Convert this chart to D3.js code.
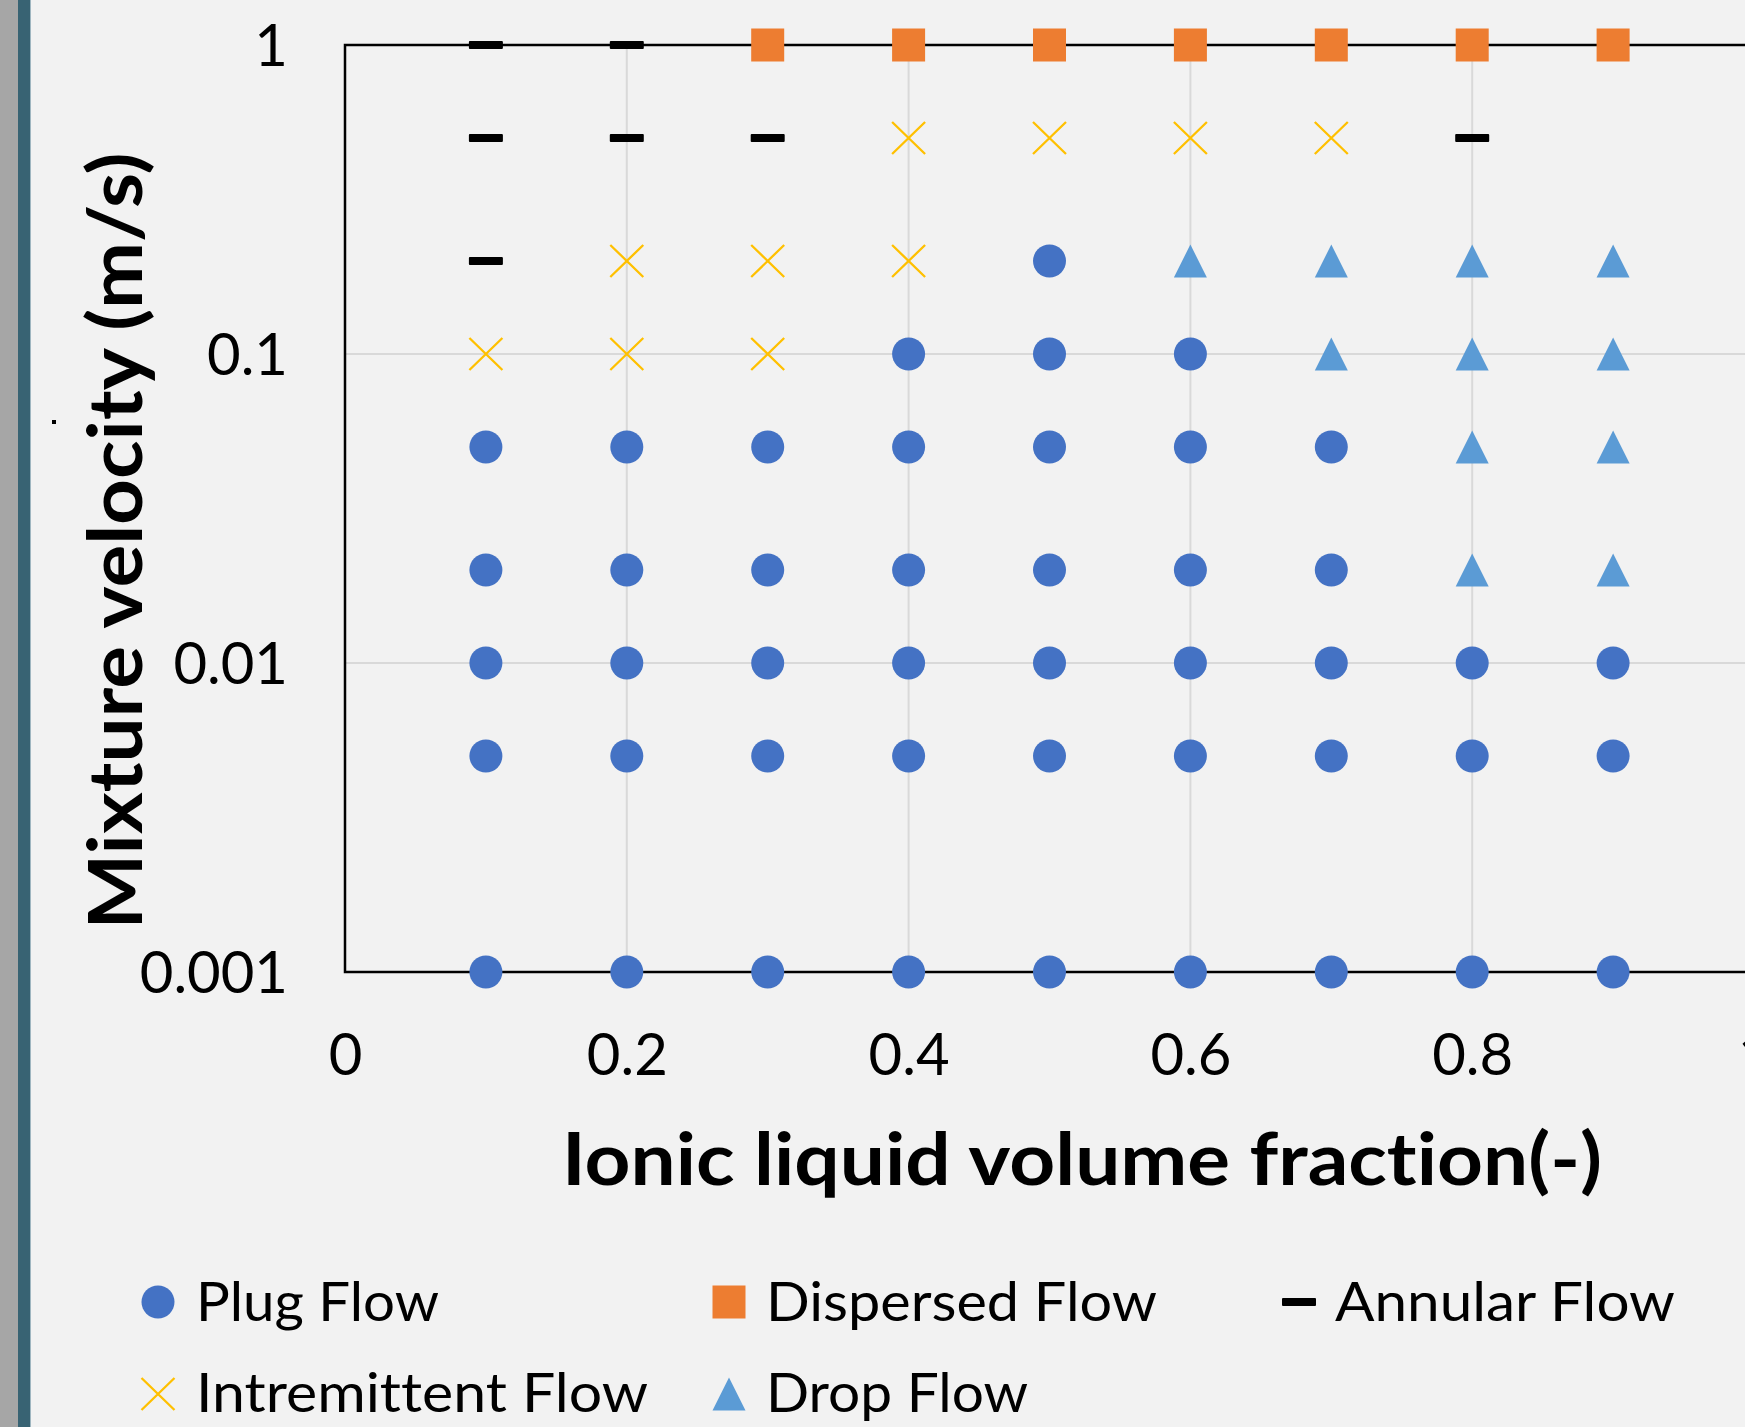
<!DOCTYPE html>
<html>
<head>
<meta charset="utf-8">
<script src="https://cdn.jsdelivr.net/npm/d3@7"></script>
<style>
  html, body { margin: 0; padding: 0; background: #f2f2f2; overflow: hidden; }
  svg { display: block; font-family: Lato, "Open Sans", sans-serif; font-variant-ligatures: none; font-feature-settings: "liga" 0; }
</style>
</head>
<body>
<div class="container"></div>
<script>
// x = ionic liquid volume fraction, y = mixture velocity (m/s)
const plugFlow = [
  [0.5, 0.2],
  [0.4, 0.1], [0.5, 0.1], [0.6, 0.1],
  [0.1, 0.05], [0.2, 0.05], [0.3, 0.05], [0.4, 0.05], [0.5, 0.05], [0.6, 0.05], [0.7, 0.05],
  [0.1, 0.02], [0.2, 0.02], [0.3, 0.02], [0.4, 0.02], [0.5, 0.02], [0.6, 0.02], [0.7, 0.02],
  [0.1, 0.01], [0.2, 0.01], [0.3, 0.01], [0.4, 0.01], [0.5, 0.01], [0.6, 0.01], [0.7, 0.01], [0.8, 0.01], [0.9, 0.01],
  [0.1, 0.005], [0.2, 0.005], [0.3, 0.005], [0.4, 0.005], [0.5, 0.005], [0.6, 0.005], [0.7, 0.005], [0.8, 0.005], [0.9, 0.005],
  [0.1, 0.001], [0.2, 0.001], [0.3, 0.001], [0.4, 0.001], [0.5, 0.001], [0.6, 0.001], [0.7, 0.001], [0.8, 0.001], [0.9, 0.001]
];
const dispersedFlow = [
  [0.3, 1], [0.4, 1], [0.5, 1], [0.6, 1], [0.7, 1], [0.8, 1], [0.9, 1]
];
const annularFlow = [
  [0.1, 1], [0.2, 1],
  [0.1, 0.5], [0.2, 0.5], [0.3, 0.5], [0.8, 0.5],
  [0.1, 0.2]
];
const intermittentFlow = [
  [0.4, 0.5], [0.5, 0.5], [0.6, 0.5], [0.7, 0.5],
  [0.2, 0.2], [0.3, 0.2], [0.4, 0.2],
  [0.1, 0.1], [0.2, 0.1], [0.3, 0.1]
];
const dropFlow = [
  [0.6, 0.2], [0.7, 0.2], [0.8, 0.2], [0.9, 0.2],
  [0.7, 0.1], [0.8, 0.1], [0.9, 0.1],
  [0.8, 0.05], [0.9, 0.05],
  [0.8, 0.02], [0.9, 0.02]
];

const xTicks = [0, 0.2, 0.4, 0.6, 0.8, 1];
const yTicks = [1, 0.1, 0.01, 0.001];
const xTitle = "Ionic liquid volume fraction(-)";
const yTitle = "Mixture velocity (m/s)";

const width = 1745;
const height = 1427;
const plot = { left: 345, top: 45, right: 1754, bottom: 972 };
const markerSize = 33;

const svg = d3.select(".container")
  .append("svg")
  .attr("width", width)
  .attr("height", height);

svg.append("rect").attr("width", width).attr("height", height).attr("fill", "#f2f2f2");

// window edge strips on the left
svg.append("rect").attr("x", 0).attr("y", 0).attr("width", 18).attr("height", height).attr("fill", "#a6a6a6");
svg.append("rect").attr("x", 18).attr("y", 0).attr("width", 12).attr("height", height).attr("fill", "#386373");
svg.append("rect").attr("x", 30).attr("y", 0).attr("width", 1).attr("height", height).attr("fill", "#9fb6c0");

const xScale = d3.scaleLinear().domain([0, 1]).range([plot.left, plot.right]);
const yScale = d3.scaleLog().domain([0.001, 1]).range([plot.bottom, plot.top]);

// gridlines
svg.append("g")
  .selectAll("line")
  .data(xTicks.filter((d) => d > 0))
  .join("line")
  .attr("x1", (d) => xScale(d)).attr("x2", (d) => xScale(d))
  .attr("y1", plot.top).attr("y2", plot.bottom)
  .attr("stroke", "#d9d9d9").attr("stroke-width", 2);

svg.append("g")
  .selectAll("line")
  .data(yTicks)
  .join("line")
  .attr("x1", plot.left).attr("x2", plot.right)
  .attr("y1", (d) => yScale(d)).attr("y2", (d) => yScale(d))
  .attr("stroke", "#d9d9d9").attr("stroke-width", 2);

// plot border
svg.append("rect")
  .attr("x", plot.left).attr("y", plot.top)
  .attr("width", plot.right - plot.left).attr("height", plot.bottom - plot.top)
  .attr("fill", "none").attr("stroke", "#000").attr("stroke-width", 2.5);

// axes (labels only)
const xAxis = d3.axisBottom(xScale).tickValues(xTicks).tickSize(0).tickFormat(d3.format("~g"));
const gx = svg.append("g").attr("transform", "translate(0," + plot.bottom + ")").call(xAxis);
gx.select(".domain").remove();
gx.selectAll("text")
  .attr("y", 103).attr("dy", null)
  .attr("font-size", 58).attr("fill", "#000")
  .attr("font-family", "Lato, sans-serif");

const yAxis = d3.axisLeft(yScale).tickValues(yTicks).tickSize(0).tickFormat((d) => String(d));
const gy = svg.append("g").attr("transform", "translate(" + plot.left + ",0)").call(yAxis);
gy.select(".domain").remove();
gy.selectAll("text")
  .attr("x", -57).attr("dy", 20)
  .attr("font-size", 58).attr("fill", "#000")
  .attr("font-family", "Lato, sans-serif");

// axis titles
svg.append("text")
  .attr("x", 1082).attr("y", 1185)
  .attr("text-anchor", "middle")
  .attr("font-size", 73).attr("font-weight", "bold")
  .attr("textLength", 1040).attr("lengthAdjust", "spacingAndGlyphs")
  .text(xTitle);

svg.append("text")
  .attr("transform", "translate(142,541) rotate(-90)")
  .attr("text-anchor", "middle")
  .attr("font-size", 74).attr("font-weight", "bold")
  .attr("textLength", 777).attr("lengthAdjust", "spacingAndGlyphs")
  .text(yTitle);

svg.append("rect").attr("x", 52).attr("y", 420).attr("width", 4).attr("height", 4).attr("fill", "#000");

// marker drawers
const half = markerSize / 2;
const drawers = {
  circle: (g, color) => g.append("circle").attr("r", 16.5).attr("fill", color),
  square: (g, color) => g.append("rect")
    .attr("x", -half).attr("y", -half).attr("width", markerSize).attr("height", markerSize)
    .attr("fill", color),
  dash: (g, color) => g.append("rect")
    .attr("x", -17).attr("y", -4).attr("width", 34).attr("height", 8).attr("rx", 1)
    .attr("fill", color),
  cross: (g, color) => g.append("path")
    .attr("d", "M" + -half + "," + -16 + "L" + half + "," + 16 + "M" + half + "," + -16 + "L" + -half + "," + 16)
    .attr("stroke", color).attr("stroke-width", 2.3).attr("fill", "none"),
  triangle: (g, color) => g.append("path")
    .attr("d", "M0," + -half + "L" + half + "," + half + "L" + -half + "," + half + "Z")
    .attr("fill", color)
};

const series = [
  { name: "Plug Flow", data: plugFlow, shape: "circle", color: "#4472c4" },
  { name: "Dispersed Flow", data: dispersedFlow, shape: "square", color: "#ed7d31" },
  { name: "Annular Flow", data: annularFlow, shape: "dash", color: "#000000" },
  { name: "Intremittent Flow", data: intermittentFlow, shape: "cross", color: "#ffc000" },
  { name: "Drop Flow", data: dropFlow, shape: "triangle", color: "#5b9bd5" }
];

series.forEach((s) => {
  svg.append("g")
    .selectAll("g")
    .data(s.data)
    .join("g")
    .attr("transform", (d) => "translate(" + xScale(d[0]) + "," + yScale(d[1]) + ")")
    .each(function () { drawers[s.shape](d3.select(this), s.color); });
});

// legend
const legendPos = [
  { mx: 158, my: 1302, tx: 196, ty: 1321, w: 243 },
  { mx: 729, my: 1302, tx: 766, ty: 1321, w: 391 },
  { mx: 1299, my: 1302, tx: 1335, ty: 1321, w: 340 },
  { mx: 158, my: 1394, tx: 196, ty: 1412, w: 452 },
  { mx: 729, my: 1394, tx: 766, ty: 1412, w: 262 }
];

series.forEach((s, i) => {
  const p = legendPos[i];
  const g = svg.append("g").attr("transform", "translate(" + p.mx + "," + p.my + ")");
  drawers[s.shape](g, s.color);
  svg.append("text")
    .attr("x", p.tx).attr("y", p.ty)
    .attr("font-size", 54).attr("fill", "#000")
    .attr("textLength", p.w).attr("lengthAdjust", "spacingAndGlyphs")
    .text(s.name);
});
</script>
</body>
</html>
